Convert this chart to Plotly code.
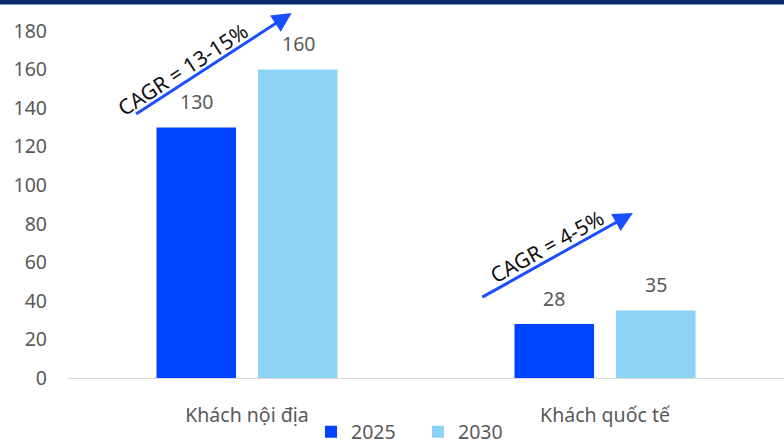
import plotly.graph_objects as go

categories = ["Khách nội địa", "Khách quốc tế"]
years = ["2025", "2030"]
values_2025 = [130, 28]
values_2030 = [160, 35]
colors = {"2025": "#0043ff", "2030": "#8dd3f4"}
cagr_labels = ["CAGR = 13-15%", "CAGR = 4-5%"]
y_ticks = [0, 20, 40, 60, 80, 100, 120, 140, 160, 180]

FONT = "Noto Sans"
GREY = "#595959"
FS = 19.5

fig = go.Figure()
for yr, vals in zip(years, [values_2025, values_2030]):
    fig.add_trace(go.Bar(x=categories, y=vals, name=yr, marker_color=colors[yr],
                         marker_line_width=0))

# value labels above bars
shift = {"2025": -51, "2030": 51}
for yr, vals in zip(years, [values_2025, values_2030]):
    for c, v in zip(categories, vals):
        fig.add_annotation(x=c, y=v, text=str(v), showarrow=False, xshift=shift[yr],
                           yshift=26, yanchor="middle",
                           font=dict(family=FONT, size=FS, color=GREY))

# CAGR arrows (data coords on category axis: index positions)
arrows = [
    dict(x0=-0.314, y0=136.4, x1=0.125, y1=189.3, tx=-0.178, ty=160.1, ang=-33),
    dict(x0=0.653, y0=41.5, x1=1.078, y1=85.6, tx=0.839, ty=68.5, ang=-29),
]
for a, lbl in zip(arrows, cagr_labels):
    fig.add_annotation(x=a["x1"], y=a["y1"], ax=a["x0"], ay=a["y0"], xref="x", yref="y",
                       axref="x", ayref="y", showarrow=True, arrowhead=2, arrowsize=1.3,
                       arrowwidth=3, arrowcolor="#1a4fff", text="")
    fig.add_annotation(x=a["tx"], y=a["ty"], xref="x", yref="y", text=lbl, showarrow=False,
                       textangle=a["ang"], xanchor="center", yanchor="middle",
                       font=dict(family=FONT, size=21, color="#111111"))

# top navy band
fig.add_shape(type="rect", xref="paper", yref="paper", x0=-68/716, x1=1.0,
              y0=(378-4.5)/347, y1=(378+3)/347, fillcolor="#0b2a6e", line_width=0)

fig.update_layout(
    width=784, height=443,
    margin=dict(l=68, r=0, t=31, b=65, autoexpand=False),
    paper_bgcolor="white", plot_bgcolor="white",
    barmode="group", bargap=0.433, bargroupgap=0.216,
    font=dict(family=FONT, size=FS, color=GREY),
    showlegend=True,
    legend=dict(orientation="h", xref="container", yref="container",
                x=418/784, xanchor="center", y=11/443, yanchor="middle",
                entrywidth=62, entrywidthmode="pixels", bgcolor="rgba(0,0,0,0)",
                font=dict(family=FONT, size=FS, color=GREY), traceorder="normal"),
)
fig.update_xaxes(type="category", range=[-0.5, 1.5], showline=True, linecolor="#d9d9d9",
                 linewidth=1, showgrid=False, ticks="", ticklabelstandoff=20, automargin=False,
                 tickfont=dict(family=FONT, size=FS, color=GREY))
fig.update_yaxes(range=[0, 180], tickvals=y_ticks, showgrid=False, zeroline=False,
                 showline=False, ticks="", ticklabelstandoff=20, automargin=False,
                 tickfont=dict(family=FONT, size=FS, color=GREY))

fig.write_html("out.html", config={"displayModeBar": False},
               post_script="document.body.style.margin='0';")
